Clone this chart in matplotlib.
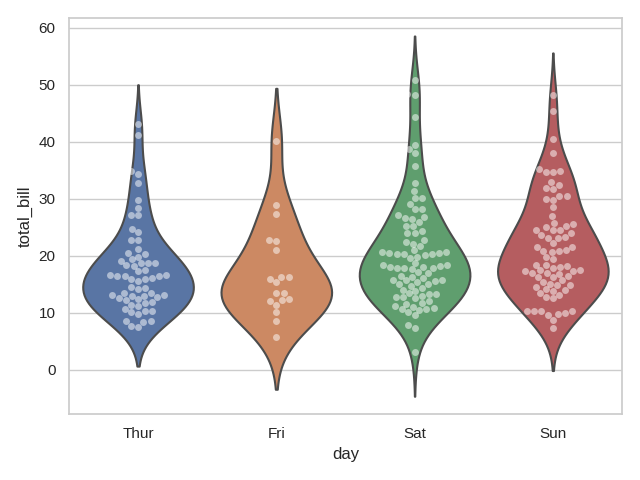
import matplotlib
matplotlib.use("Agg")
import matplotlib.pyplot as plt
import seaborn as sns
import pandas as pd

thur = [27.20, 22.76, 17.29, 19.44, 16.66, 10.07, 32.68, 15.98, 34.83, 13.03, 18.28, 24.71, 21.16,
        10.65, 12.43, 24.08, 11.69, 13.42, 14.26, 15.95, 12.48, 29.80, 8.52, 14.52, 11.38, 22.82,
        19.08, 20.27, 11.17, 12.26, 18.26, 8.51, 10.33, 14.15, 16.00, 13.16, 17.47, 34.30, 41.19,
        27.05, 16.43, 8.35, 18.64, 11.87, 9.78, 7.51,
        19.81, 28.44, 15.48, 16.58, 7.56, 10.34, 43.11, 13.00, 13.51, 18.71, 12.74, 13.00, 16.40,
        20.53, 16.47, 18.78]
fri = [28.97, 22.49, 5.75, 16.32, 22.75, 40.17, 27.28, 12.03, 21.01, 12.46, 11.35, 15.38,
       12.16, 13.42, 8.58, 15.98, 13.42, 16.27, 10.09]
sat = [20.65, 17.92, 20.29, 15.77, 39.42, 19.82, 17.81, 13.37, 12.69, 21.70, 19.65, 9.55, 18.35,
       15.06, 20.69, 17.78, 24.06, 16.31, 16.93, 18.69, 31.27, 16.04,
       38.01, 26.41, 11.24, 48.27, 20.29, 13.81, 11.02, 18.29, 17.59, 20.08, 16.45, 3.07, 20.23,
       15.01, 12.02, 17.07, 26.86, 25.28, 14.73, 10.51, 17.92,
       44.30, 22.42, 20.92, 15.36, 20.49, 25.21, 18.24, 14.31, 14.00, 7.25,
       10.59, 10.63, 50.81, 15.81,
       26.59, 38.73, 24.27, 12.76, 30.06, 25.89, 48.33, 13.27, 28.17, 12.90, 28.15, 11.59, 7.74, 30.14,
       20.45, 13.28, 22.12, 24.01, 15.69, 11.61, 10.77, 15.53, 10.07, 12.60, 32.83, 35.83, 29.03,
       27.18, 22.67, 17.82]
sun = [16.99, 10.34, 21.01, 23.68, 24.59, 25.29, 8.77, 26.88, 15.04, 14.78, 10.27, 35.26, 15.42,
       18.43, 14.83, 21.58, 10.33, 16.29, 16.97,
       17.46, 13.94, 9.68, 30.40, 18.29, 22.23, 32.40, 28.55, 18.04, 12.54, 10.29, 34.81, 9.94,
       25.56, 19.49,
       38.07, 23.95, 25.71, 17.31, 29.93,
       14.07, 13.13, 17.26, 24.55, 19.77, 29.85, 48.17, 25.00, 13.39, 16.49, 21.50, 12.66, 16.21,
       13.81, 17.51, 24.52, 20.76, 31.71,
       7.25, 31.85, 16.82, 32.90, 17.89, 14.48, 9.60, 34.63, 34.65, 23.33, 45.35, 23.17, 40.55,
       20.69, 20.90, 30.46, 18.15, 23.10, 15.69]

days = ["Thur", "Fri", "Sat", "Sun"]
values = {"Thur": thur, "Fri": fri, "Sat": sat, "Sun": sun}

df = pd.DataFrame([(d, v) for d in days for v in values[d]], columns=["day", "total_bill"])
df["day"] = pd.Categorical(df["day"], categories=days, ordered=True)

sns.set_theme(style="whitegrid")
plt.rcParams["font.family"] = ["Liberation Sans", "DejaVu Sans"]
fig, ax = plt.subplots(figsize=(6.4, 4.8), dpi=100)
sns.violinplot(data=df, x="day", y="total_bill", hue="day", order=days, hue_order=days,
               inner=None, legend=False, ax=ax, saturation=0.75, linewidth=1.5)
sns.swarmplot(data=df, x="day", y="total_bill", order=days, color="white", alpha=0.5, ax=ax)
fig.tight_layout()
fig.savefig("out.png", dpi=100)
